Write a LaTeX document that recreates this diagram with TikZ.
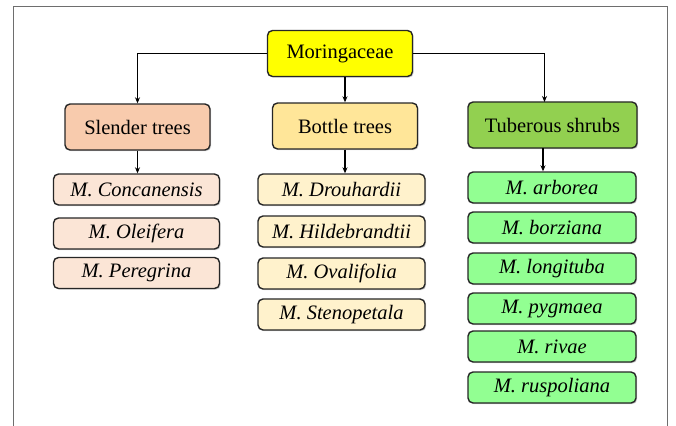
\documentclass[tikz,border=0pt]{standalone}
\usepackage{fontspec}
\setmainfont{Liberation Serif}
\usetikzlibrary{arrows.meta,shadows}
\definecolor{cTop}{RGB}{255,255,0}
\definecolor{cSl}{RGB}{248,203,173}
\definecolor{cBo}{RGB}{255,230,153}
\definecolor{cTu}{RGB}{146,208,80}
\definecolor{cSlL}{RGB}{251,229,214}
\definecolor{cBoL}{RGB}{255,242,204}
\definecolor{cTuL}{RGB}{146,255,146}
\definecolor{frame}{RGB}{110,110,110}
\tikzset{
  box/.style={draw=black!85, line width=1.4pt, rounded corners=5pt, align=center,
    inner sep=0pt, drop shadow={opacity=0.35, shadow xshift=1.2pt, shadow yshift=-1.2pt}},
  head/.style={box, minimum width=145pt, minimum height=46pt, font=\fontsize{20.5}{23}\selectfont},
  item/.style={box, minimum height=31pt, font=\fontsize{20.5}{23}\selectfont\itshape},
  conn/.style={line width=1.4pt, -{Stealth[length=6pt,width=5pt]}}
}
\begin{document}
\begin{tikzpicture}[x=1pt,y=-1pt]
\useasboundingbox (0,0) rectangle (676,425);
\draw[frame, line width=1pt] (13,430) -- (13,6.5) -- (667.5,6.5) -- (667.5,430);

\node[head, fill=cTop] (M) at (340,53.5) {Moringaceae};
\node[head, fill=cSl] (S) at (137.5,127) {Slender trees};
\node[head, fill=cBo] (B) at (345,126) {Bottle trees};
\node[head, fill=cTu, minimum width=169pt] (T) at (552.5,125) {Tuberous shrubs};

\node[item, fill=cSlL, minimum width=166pt] (s1) at (136.5,189.5) {M. Concanensis};
\node[item, fill=cSlL, minimum width=166pt] (s2) at (136.5,233.5) {M. Oleifera};
\node[item, fill=cSlL, minimum width=166pt] (s3) at (136.5,273) {M. Peregrina};

\node[item, fill=cBoL, minimum width=167pt] (b1) at (341.5,189.5) {M. Drouhardii};
\node[item, fill=cBoL, minimum width=167pt] (b2) at (341.5,231.5) {M. Hildebrandtii};
\node[item, fill=cBoL, minimum width=167pt] (b3) at (341.5,273.5) {M. Ovalifolia};
\node[item, fill=cBoL, minimum width=167pt] (b4) at (341.5,314.5) {M. Stenopetala};

\node[item, fill=cTuL, minimum width=168pt] (t1) at (552,187.5) {M. arborea};
\node[item, fill=cTuL, minimum width=168pt] (t2) at (552,227.5) {M. borziana};
\node[item, fill=cTuL, minimum width=168pt] (t3) at (552,268.5) {M. longituba};
\node[item, fill=cTuL, minimum width=168pt] (t4) at (552,308.5) {M. pygmaea};
\node[item, fill=cTuL, minimum width=168pt] (t5) at (552,346.5) {M. rivae};
\node[item, fill=cTuL, minimum width=168pt] (t6) at (552,387.5) {M. ruspoliana};

\coordinate (tin) at (544.5,102);
\coordinate (tout) at (543,148);

\draw[conn] (M.west) -| (S.north);
\draw[conn] (B.north |- M.south) -- (B.north);
\draw[conn] (M.east) -| (tin);
\draw[conn] (S.south) -- (s1.north -| S.south);
\draw[conn] (B.south) -- (b1.north -| B.south);
\draw[conn] (tout) -- (t1.north -| tout);
\end{tikzpicture}
\end{document}
